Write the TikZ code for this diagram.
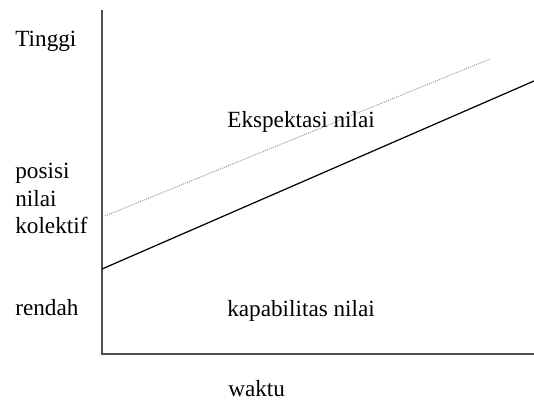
\documentclass[tikz,border=0pt]{standalone}
\usepackage{fontspec}
\setmainfont{Liberation Serif}
\definecolor{axisgray}{HTML}{505050}
\definecolor{dotgray}{HTML}{8A8A8A}
\begin{document}
\begin{tikzpicture}[x=0.02cm,y=-0.02cm,font=\fontsize{13.2}{15.6}\selectfont,every node/.style={text=black,inner sep=0pt}]
\useasboundingbox (0,0) rectangle (534,401);
% axes: value position upward, time to the right
\coordinate (ytop) at (102,10);
\coordinate (origin) at (102,354);
\coordinate (xend) at (534,354);
\draw[axisgray,line width=.85pt] (ytop) -- (origin) -- (xend);
% value capability (solid) and value expectation (dotted)
\coordinate (capstart) at (102,269);
\coordinate (capend) at (534,81);
\coordinate (expstart) at (105,216);
\coordinate (expend) at (490,59);
\draw[black,line width=.7pt] (capstart) -- (capend);
\draw[dotgray,line width=.45pt,dash pattern=on .6pt off .6pt] (expstart) -- (expend);
% labels
\node[anchor=base west] (tinggi) at (15,47) {Tinggi};
\foreach \y/\word in {179/posisi,206.5/nilai,234/kolektif}{
  \node[anchor=base west] (\word) at (15,\y) {\word};
}
\node[anchor=base west] (rendah) at (15,316) {rendah};
\node[anchor=base west] (ekspektasi) at (227,128) {Ekspektasi nilai};
\node[anchor=base west] (kapabilitas) at (227,317) {kapabilitas nilai};
\node[anchor=base west] (waktu) at (228,397) {waktu};
\end{tikzpicture}
\end{document}
